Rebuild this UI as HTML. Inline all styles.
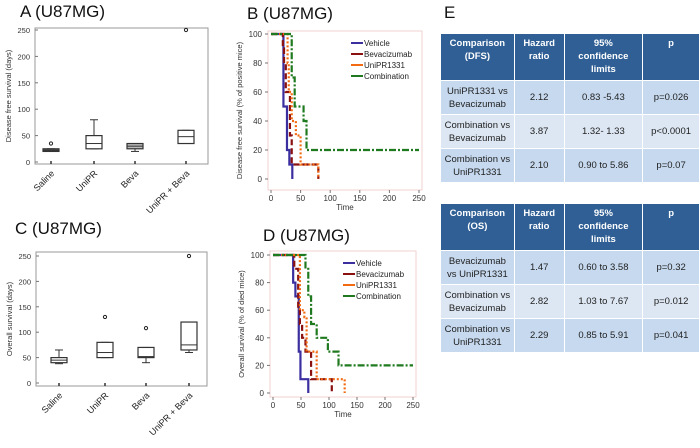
<!DOCTYPE html>
<html><head><meta charset="utf-8"><style>
body{margin:0;width:700px;height:448px;background:#fff;overflow:hidden;font-family:"Liberation Sans",sans-serif}
svg{position:absolute;left:0;top:0}
table{position:absolute;left:440px;border-collapse:collapse;font-family:"Liberation Sans",sans-serif;font-size:9.5px;color:#222;table-layout:fixed}
td,th{border:1px solid #fff;text-align:center;padding:0;line-height:13px}
th{background:#2f5f95;color:#fff;font-weight:bold;vertical-align:top;padding-top:3px;height:43px}
tr.r1 td{background:#c6d9ef;height:33px}
tr.r2 td{background:#dde7f3;height:33px}
</style></head><body>
<svg id="s" width="700" height="448"></svg>
<table style="top:33px">
<colgroup><col style="width:74px"><col style="width:50px"><col style="width:79px"><col style="width:57px"></colgroup>
<tr><th>Comparison<br>(DFS)</th><th>Hazard<br>ratio</th><th>95%<br>confidence<br>limits</th><th>p</th></tr>
<tr class="r1"><td>UniPR1331 vs<br>Bevacizumab</td><td>2.12</td><td>0.83 -5.43</td><td>p=0.026</td></tr>
<tr class="r2"><td>Combination vs<br>Bevacizumab</td><td>3.87</td><td>1.32- 1.33</td><td>p&lt;0.0001</td></tr>
<tr class="r1"><td>Combination vs<br>UniPR1331</td><td>2.10</td><td>0.90 to 5.86</td><td>p=0.07</td></tr>
</table>
<table style="top:203px">
<colgroup><col style="width:74px"><col style="width:50px"><col style="width:79px"><col style="width:57px"></colgroup>
<tr><th>Comparison<br>(OS)</th><th>Hazard<br>ratio</th><th>95%<br>confidence<br>limits</th><th>p</th></tr>
<tr class="r1"><td>Bevacizumab<br>vs UniPR1331</td><td>1.47</td><td>0.60 to 3.58</td><td>p=0.32</td></tr>
<tr class="r2"><td>Combination vs<br>Bevacizumab</td><td>2.82</td><td>1.03 to 7.67</td><td>p=0.012</td></tr>
<tr class="r1"><td>Combination vs<br>UniPR1331</td><td>2.29</td><td>0.85 to 5.91</td><td>p=0.041</td></tr>
</table>
<script>
const boxCats=["Saline","UniPR","Beva","UniPR + Beva"];
// [min,q1,med,q3,max]
const boxA=[[20,20,22,25,25],[25,25,35,50,80],[20,25,30,35,35],[35,35,48,60,60]];
const outA=[[35],[],[],[250]];
const boxC=[[38,40,45,50,65],[50,50,60,80,80],[40,50,52,70,70],[60,65,75,120,120]];
const outC=[[],[130],[108],[250]];
const boxFillA=["#555","#fff","#bbb","#fff"];
const boxFillC=["#fff","#fff","#fff","#fff"];
const boxTicks=[0,50,100,150,200,250];
const kmTicksX=[0,50,100,150,200,250];
const kmTicksY=[0,20,40,60,80,100];
const kmNames=["Vehicle","Bevacizumab","UniPR1331","Combination"];
const kmB=[
[[0,100],[21,50],[27,20],[31,10],[36,0]],
[[0,100],[20,90],[22,80],[25,60],[32,30],[35,10],[80,0]],
[[0,100],[28,80],[30,60],[35,40],[42,30],[50,10],[80,0]],
[[0,100],[35,70],[40,50],[55,40],[60,20],[250,20]]];
const kmD=[
[[0,100],[36,80],[40,70],[46,30],[49,10],[63,0]],
[[0,100],[38,90],[45,60],[48,50],[52,40],[58,30],[68,10],[105,0]],
[[0,100],[48,60],[56,55],[60,30],[78,10],[128,0]],
[[0,100],[58,90],[63,70],[68,50],[78,40],[98,30],[117,20],[250,20]]];
const S=document.getElementById('s');const NS="http://www.w3.org/2000/svg";
function mk(t,a,txt){const e=document.createElementNS(NS,t);for(const k in a)e.setAttribute(k,a[k]);if(txt!==undefined)e.textContent=txt;S.appendChild(e);return e;}
function title(x,y,t,n){const e=mk('text',{x:x,y:y,'font-size':17,fill:'#111'},t);

}
title(20,17,"A (U87MG)","panel-a-title");title(247,19,"B (U87MG)","panel-b-title");
title(15,234,"C (U87MG)","panel-c-title");title(263,241,"D (U87MG)","panel-d-title");
title(444,18,"E","panel-e-title");
function boxPlot(P,data,outs,fills,ytitle,pfx){
 const y=v=>P.y0+(P.y1-P.y0)*v/250;
 const f=mk('rect',{x:P.l,y:P.t,width:P.r-P.l,height:P.b-P.t,fill:'none',stroke:'#999','stroke-width':1});
 
 
 boxTicks.forEach(v=>{mk('line',{x1:P.l,x2:P.l+3,y1:y(v),y2:y(v),stroke:'#777'});
  const t=mk('text',{x:P.l-5,y:y(v)+3,'font-size':7.5,'text-anchor':'end',fill:'#333'},v);
  
  });
 const yt=mk('text',{transform:`translate(${P.l-24},${(P.t+P.b)/2}) rotate(-90)`,'font-size':7.5,'text-anchor':'middle',fill:'#333'},ytitle);
 
 
 data.forEach((d,i)=>{const cx=P.xs[i],w=P.bw/2;
  mk('line',{x1:cx,x2:cx,y1:P.b-3,y2:P.b,stroke:'#333','stroke-width':1.5});
  mk('line',{x1:cx,x2:cx,y1:y(d[0]),y2:y(d[1]),stroke:'#333'});
  mk('line',{x1:cx,x2:cx,y1:y(d[3]),y2:y(d[4]),stroke:'#333'});
  mk('line',{x1:cx-w/2,x2:cx+w/2,y1:y(d[0]),y2:y(d[0]),stroke:'#333'});
  mk('line',{x1:cx-w/2,x2:cx+w/2,y1:y(d[4]),y2:y(d[4]),stroke:'#333'});
  const b=mk('rect',{x:cx-w,y:y(d[3]),width:2*w,height:Math.max(1,y(d[1])-y(d[3])),fill:fills[i],stroke:'#333','stroke-width':1.2});
  
  
  mk('line',{x1:cx-w,x2:cx+w,y1:y(d[2]),y2:y(d[2]),stroke:'#333','stroke-width':1});
  outs[i].forEach(o=>{const c=mk('circle',{cx:cx,cy:y(o),r:1.6,fill:'none',stroke:'#222'});
   
   });
  const t=mk('text',{transform:`translate(${cx+4},${P.b+10}) rotate(-45)`,'font-size':9,'text-anchor':'end',fill:'#222'},boxCats[i]);
  
  });
}
boxPlot({l:35,r:208,t:28,b:164,y0:162,y1:30,xs:[51,94,135,186],bw:16},boxA,outA,boxFillA,"Disease free survival (days)","a");
boxPlot({l:36,r:207,t:252,b:386,y0:383,y1:256,xs:[59,105,146,189],bw:16},boxC,outC,boxFillC,"Overall survival (days)","c");
const kmCol=["#3b2fa0","#8b1010","#f26a12","#1f7a1f"];
const kmDash=["","6,3","2,2","7,2,2,2"];
function km(P,series,ytitle,pfx){
 const x=v=>P.x0+(P.x1-P.x0)*v/250,y=v=>P.y0+(P.y1-P.y0)*v/100;
 const f=mk('rect',{x:P.l,y:P.t,width:P.r-P.l,height:P.b-P.t,fill:'none',stroke:'#f0d0d0'});
 
 
 kmTicksX.forEach(v=>{mk('line',{x1:x(v),x2:x(v),y1:P.b,y2:P.b+3,stroke:'#777'});
  const t=mk('text',{x:x(v),y:P.b+11,'font-size':8,'text-anchor':'middle',fill:'#333'},v);
  
  });
 kmTicksY.forEach(v=>{mk('line',{x1:P.l-3,x2:P.l,y1:y(v),y2:y(v),stroke:'#777'});
  const t=mk('text',{x:P.l-6,y:y(v)+3,'font-size':8,'text-anchor':'end',fill:'#333'},v);
  
  });
 const xt=mk('text',{x:(P.l+P.r)/2,y:P.b+20,'font-size':8,'text-anchor':'middle',fill:'#333'},"Time");
 
 
 const yt=mk('text',{transform:`translate(${P.l-26},${(P.t+P.b)/2}) rotate(-90)`,'font-size':7.5,'text-anchor':'middle',fill:'#333'},ytitle);
 
 
 series.forEach((s,i)=>{let d=`M${x(s[0][0])},${y(s[0][1])}`;
  for(let k=1;k<s.length;k++){d+=`H${x(s[k][0])}V${y(s[k][1])}`;}
  const p=mk('path',{d:d,fill:'none',stroke:kmCol[i],'stroke-width':2.2,'stroke-dasharray':kmDash[i]});
  
  
  const ly=P.t+12+i*11;
  mk('line',{x1:P.lx,x2:P.lx+12,y1:ly,y2:ly,stroke:kmCol[i],'stroke-width':2});
  const t=mk('text',{x:P.lx+13,y:ly+3,'font-size':8,fill:'#222'},kmNames[i]);
  
  });
}
km({l:268,r:422,t:31,b:190,x0:271,x1:419,y0:179,y1:34,lx:351},kmB,"Disease free survival (% of positive  mice)","b");
km({l:270,r:416,t:251,b:397,x0:273,x1:413,y0:393,y1:255,lx:343},kmD,"Overall survival (% of died mice)","d");
</script>
</body></html>
